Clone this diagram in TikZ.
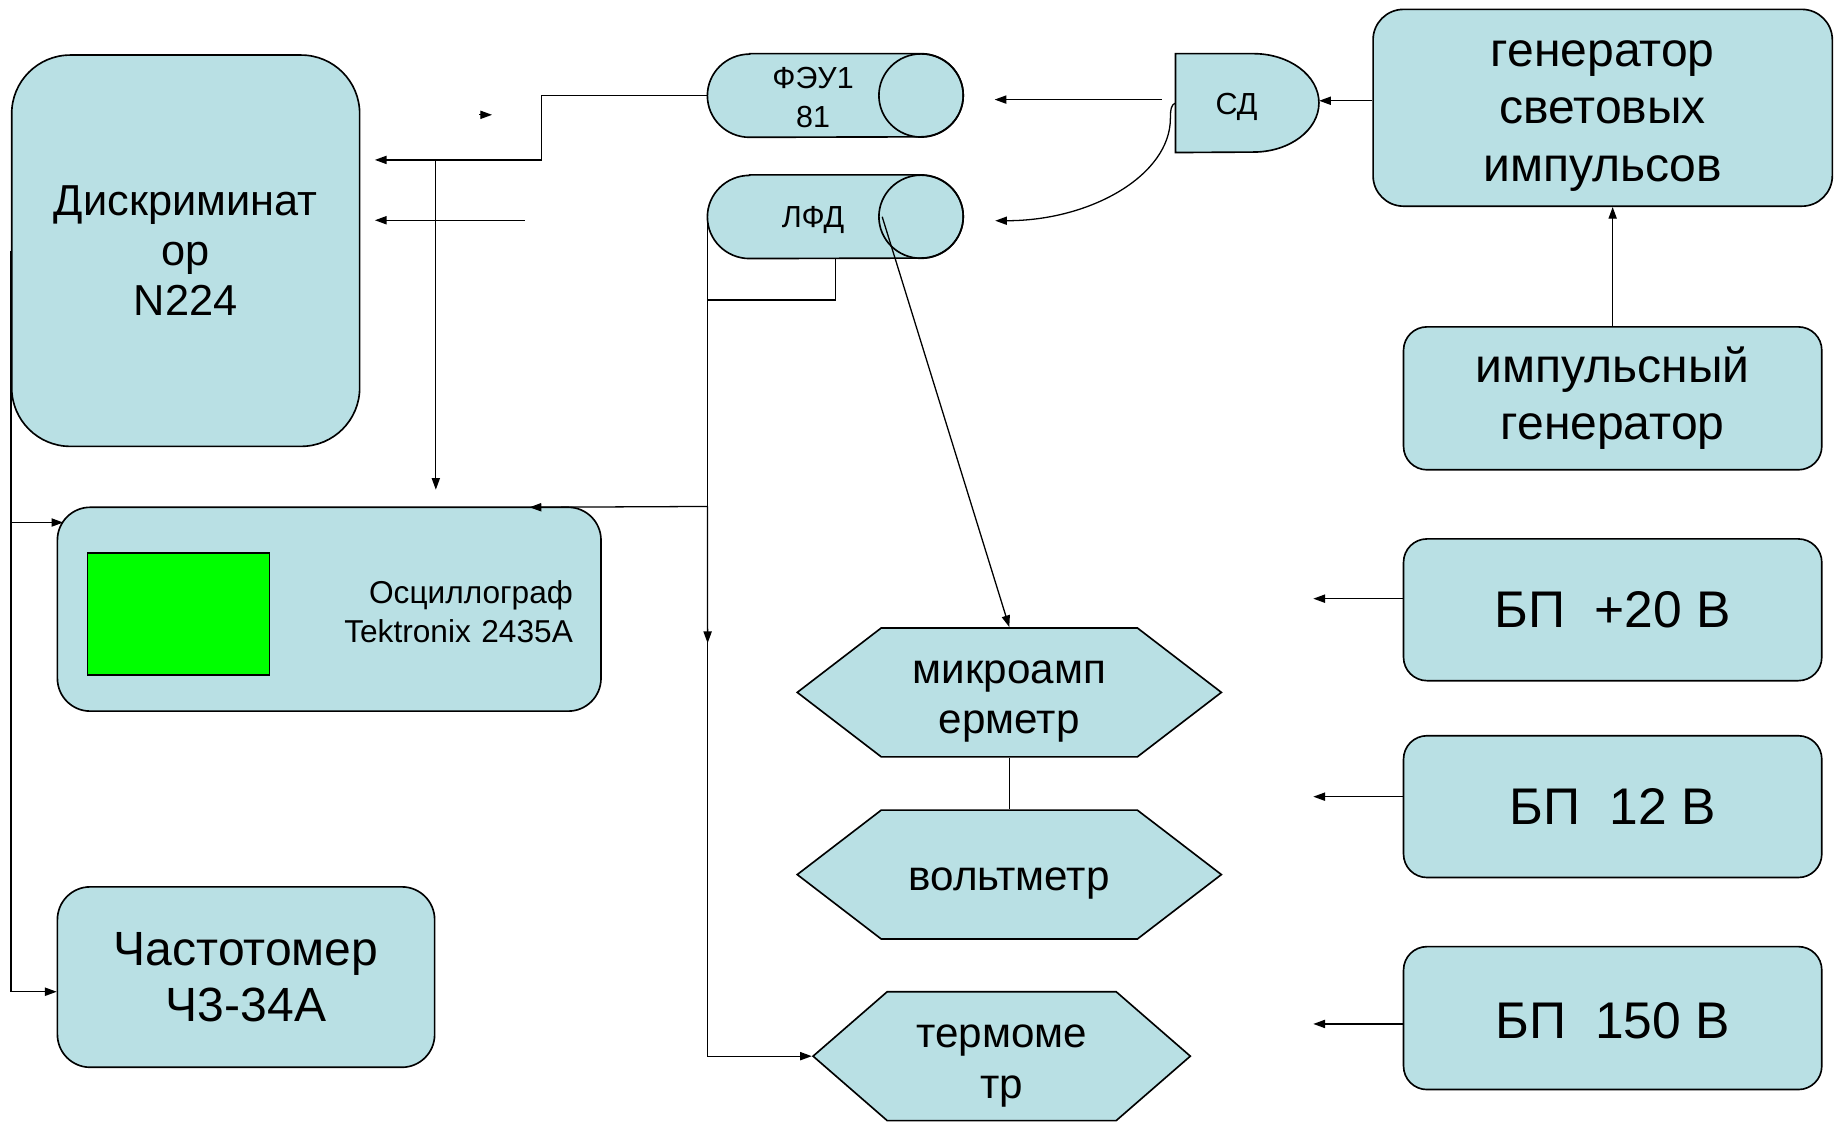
\documentclass[tikz,border=0pt]{standalone}
\usepackage{fontspec}
\setmainfont{Liberation Sans}
\usetikzlibrary{arrows.meta,shapes,calc}
\definecolor{boxblue}{RGB}{185,224,228}
\definecolor{scrgreen}{RGB}{0,255,0}

\begin{document}
\begin{tikzpicture}[x=1pt, y=-1pt, >={Triangle[length=10pt,width=7pt]}]
		\tikzstyle{every node}=[font=\fontsize{37}{42.5}\selectfont, align=center, inner sep=0pt]
		\tikzstyle{blk}=[draw, fill=boxblue, line width=1.4pt, rounded corners=20pt]
		\tikzstyle{cylbox}=[minimum width=218pt, minimum height=71pt]
		\tikzstyle{cylline}=[fill=boxblue, line width=1.4pt]
		\tikzstyle{small}=[font=\fontsize{26}{33}\selectfont]
		\tikzstyle{hexa}=[draw, fill=boxblue, line width=1.4pt, signal, signal to=east and west, minimum height=110pt, font=\fontsize{36}{43}\selectfont]
		\tikzstyle{wire}=[line width=1.1pt]
		\useasboundingbox (0,0) rectangle (1568,958);
		\node [blk, rounded corners=50pt, minimum width=297pt, minimum height=334pt] (disc) at (158.5,214) {Дискриминат\\ор\\N224};
		\node [cylbox] (feu) at (713,81.5) {};
		\draw [cylline] ($(feu.north west)+(36,0)$) -- ($(feu.north east)+(-36,0)$) arc[start angle=-90, end angle=90, x radius=36, y radius=35.5] -- ($(feu.south west)+(36,0)$) arc[start angle=90, end angle=270, x radius=36, y radius=35.5] -- cycle;
		\draw [line width=1.4pt] ($(feu.east)+(-36,0)$) ellipse [x radius=36, y radius=35.5];
		\node [small] (feulbl) at ($(feu.center)+(-19,1.5)$) {ФЭУ1\\81};
		\node [cylbox] (lfd) at (713,185) {};
		\draw [cylline] ($(lfd.north west)+(36,0)$) -- ($(lfd.north east)+(-36,0)$) arc[start angle=-90, end angle=90, x radius=36, y radius=35.5] -- ($(lfd.south west)+(36,0)$) arc[start angle=90, end angle=270, x radius=36, y radius=35.5] -- cycle;
		\draw [line width=1.4pt] ($(lfd.east)+(-36,0)$) ellipse [x radius=36, y radius=35.5];
		\node [small] (lfdlbl) at ($(lfd.center)+(-19,3)$) {ЛФД};
		\node [minimum width=122pt, minimum height=84pt] (sd) at (1064.5,88) {};
		\draw [fill=boxblue, line width=1.4pt] (sd.north west) -- ++(66.5,0) arc[start angle=-90, end angle=90, x radius=56, y radius=42] -- (sd.south west) -- cycle;
		\node [small] (sdlbl) at ($(sd.center)+(-9,3)$) {СД};
		\node [blk, rounded corners=26pt, minimum width=392pt, minimum height=168pt, font=\fontsize{41}{49}\selectfont] (gen) at (1368,92) {\rule{0pt}{36pt}генератор\\световых\\импульсов};
		\node [blk, minimum width=357pt, minimum height=122pt, font=\fontsize{41}{49}\selectfont] (imp) at (1376.5,340) {\rule{0pt}{29pt}импульсный\\генератор};
		\node [blk, rounded corners=28pt, minimum width=464pt, minimum height=174pt, text width=416pt, inner xsep=24pt, align=right, font=\fontsize{27}{33}\selectfont] (osc) at (281,520) {\rule{0pt}{24pt}Осциллограф\\Tektronix 2435A};
		\node [draw, fill=scrgreen, line width=1.2pt, minimum width=155pt, minimum height=104pt] (scr) at (152.3,524) {};
		\node [blk, rounded corners=28pt, minimum width=322pt, minimum height=154pt, font=\fontsize{41}{48}\selectfont] (chast) at (210,834) {Частотомер\\Ч3-34А};
		\node [hexa, minimum width=362pt, signal pointer angle=75] (mka) at (861.5,591) {\rule{0pt}{34.5pt}микроамп\\ерметр};
		\node [hexa, minimum width=362pt, signal pointer angle=75] (volt) at (861.5,746.5) {\rule{0pt}{34.5pt}вольтметр};
		\node [hexa, minimum width=322pt, signal pointer angle=82] (term) at (855,901.5) {\rule{0pt}{36.5pt}термоме\\тр};
		\node [blk, minimum width=357pt, minimum height=121pt, font=\fontsize{44}{50}\selectfont] (bp20) at (1376.5,520.5) {БП\ \ +20 В};
		\node [blk, minimum width=357pt, minimum height=121pt, font=\fontsize{44}{50}\selectfont] (bp12) at (1376.5,688.5) {БП\ \ 12 В};
		\node [blk, minimum width=357pt, minimum height=122pt, font=\fontsize{44}{50}\selectfont] (bp150) at (1376.5,869) {\rule{0pt}{35pt}БП\ \ 150 В};
		\coordinate (kink) at (462,136.5);
		\coordinate (d1) at (320,136.5);
		\coordinate (d2) at (320,188);
		\coordinate (d2s) at (448,188);
		\coordinate (j1) at (372,136.5);
		\coordinate (oscin1) at (372,418);
		\coordinate (oscin2) at (452,433);
		\coordinate (oscin3) at (54,446);
		\coordinate (midarr) at (604,549);
		\coordinate (lfdj) at (604,256);
		\coordinate (chin) at (48.4,846.5);
		\coordinate (stray) at (409,98);
		\coordinate (feuin) at (849,85);
		\coordinate (feuins) at (991.5,85);
		\coordinate (lfdin) at (849.5,188.4);
		\coordinate (sdtip) at (1126,86);
		\coordinate (lfdx) at (753,185);
		\coordinate (p1) at (1121,511);
		\coordinate (p2) at (1121,680);
		\coordinate (p3) at (1121,874);
		\draw [wire, ->] (feu.west) -| (kink) -- (d1);
		\draw [wire, ->] (j1) -- (oscin1);
		\draw [wire, ->] (d2s) -- (d2);
		\draw [wire, ->] (stray) -- ++(11,0);
		\draw [wire, ->] (lfd.west) -- (lfd.west |- term.west) -- (term.west);
		\draw [wire, ->] (lfd.west |- osc.north) -- (midarr);
		\draw [wire, ->] (lfd.west |- osc.north) -- (oscin2);
		\draw [wire] (lfd.south) |- (lfdj);
		\draw [wire, ->] (disc.west) -- (disc.west |- chin) -- (chin);
		\draw [wire, ->] (disc.west |- oscin3) -- (oscin3);
		\draw [wire, ->] (feuins) -- (feuin);
		\draw [wire, ->] (sd.west) .. controls (1000,89) and (999,93) .. (999,101) .. controls (999,149) and (932,188.4) .. (lfdin);
		\draw [wire, ->] (gen.west |- sdtip) -- (sdtip);
		\draw [wire, ->] (imp.north) -- (imp.north |- gen.south);
		\draw [wire, ->] (lfdx) -- (mka.north);
		\draw [wire] (mka.south) -- (volt.north);
		\draw [wire, ->] (bp20.west |- p1) -- (p1);
		\draw [wire, ->] (bp12.west |- p2) -- (p2);
		\draw [wire, ->] (bp150.west |- p3) -- (p3);
\end{tikzpicture}
\end{document}
